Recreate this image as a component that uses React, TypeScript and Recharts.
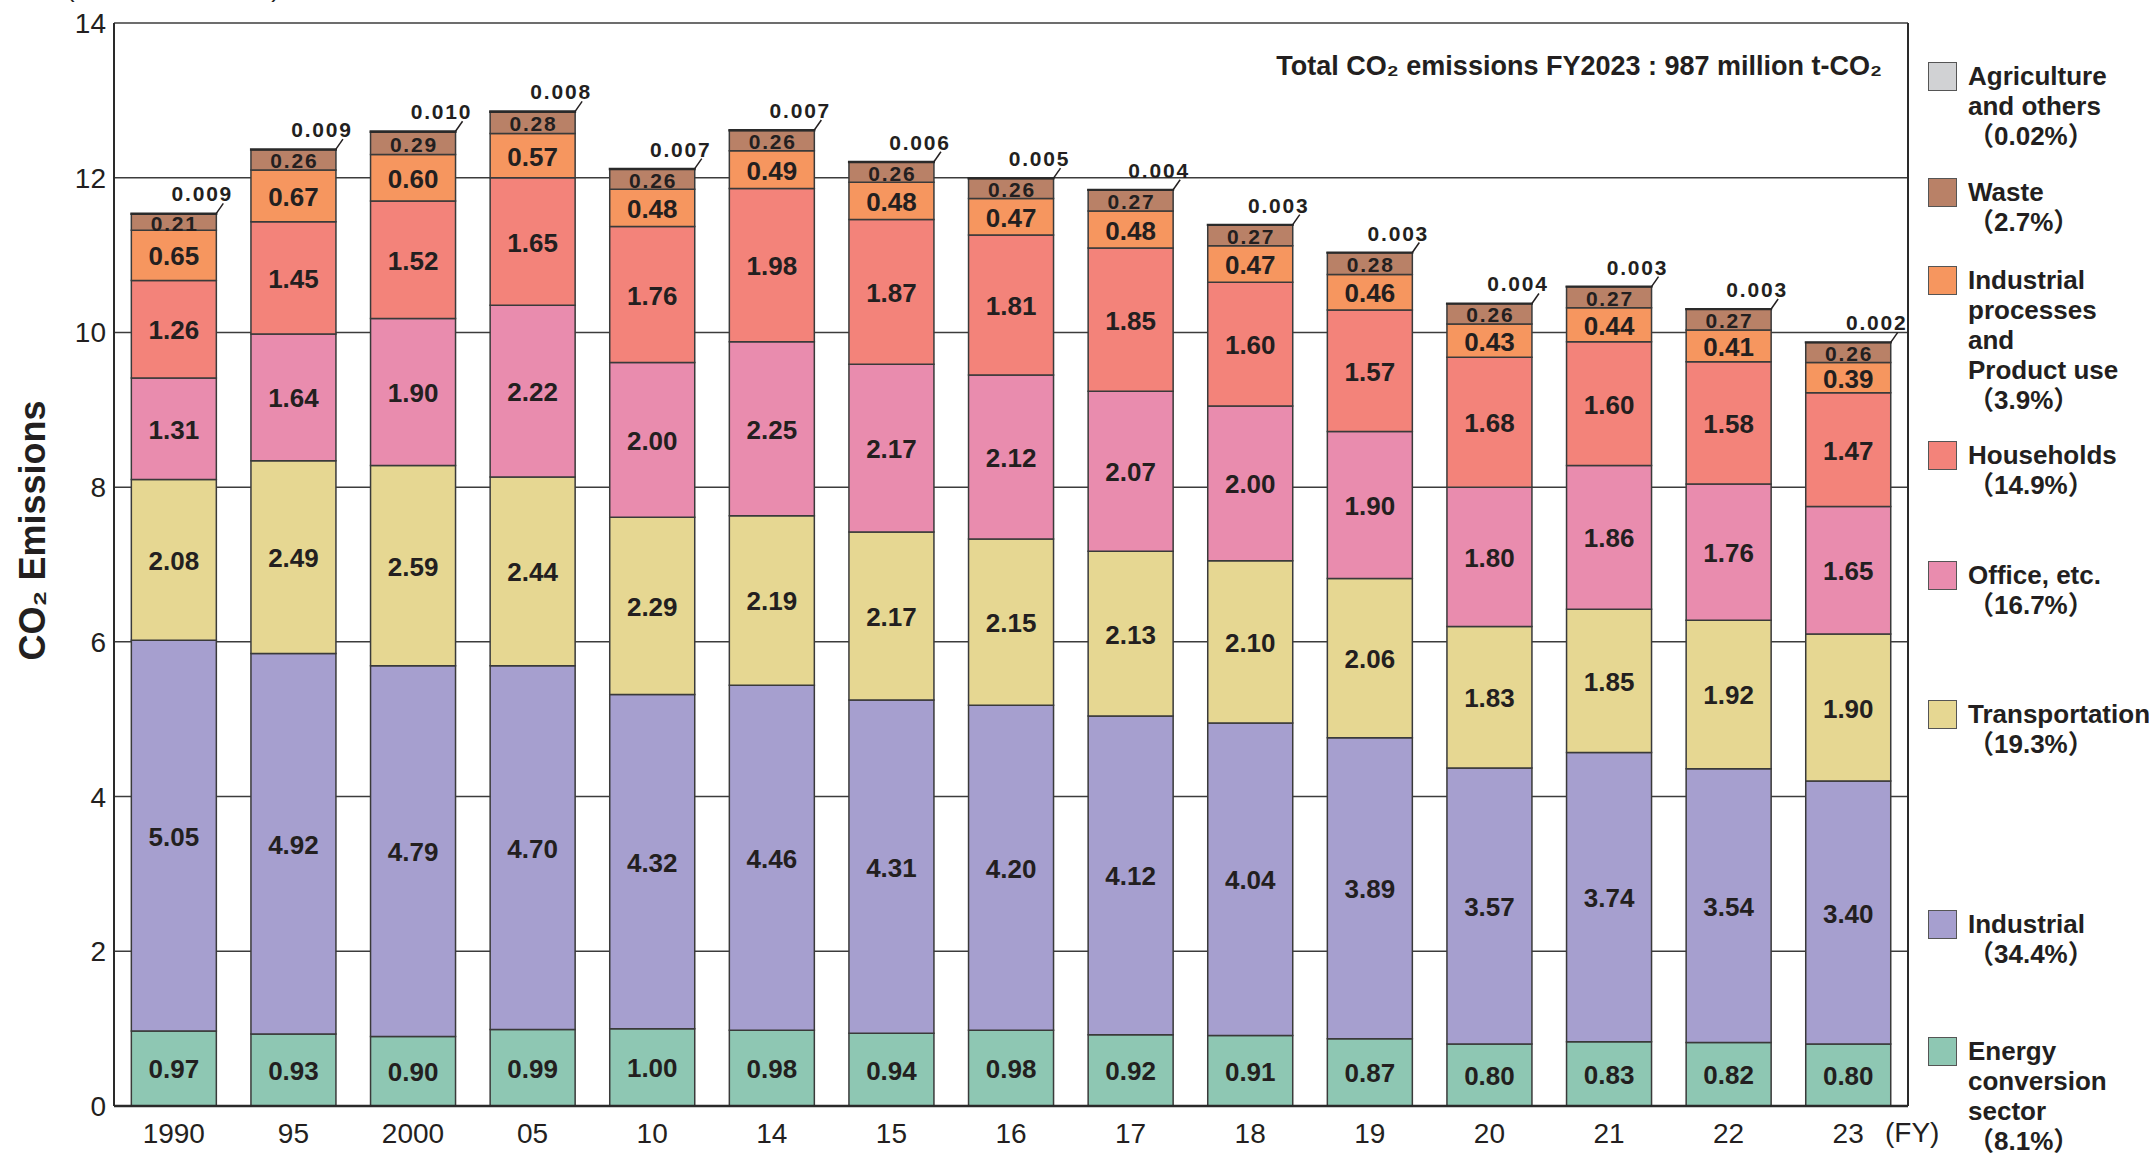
import React from "react";
import { Bar, BarChart, CartesianGrid, LabelList, XAxis, YAxis } from "recharts";

// FY labels on the category axis
const years = ["1990", "95", "2000", "05", "10", "14", "15", "16", "17", "18", "19", "20", "21", "22", "23"];

// 100 million t-CO2, bottom of the stack first
const energy = [0.97, 0.93, 0.9, 0.99, 1.0, 0.98, 0.94, 0.98, 0.92, 0.91, 0.87, 0.8, 0.83, 0.82, 0.8];
const industrial = [5.05, 4.92, 4.79, 4.7, 4.32, 4.46, 4.31, 4.2, 4.12, 4.04, 3.89, 3.57, 3.74, 3.54, 3.4];
const transport = [2.08, 2.49, 2.59, 2.44, 2.29, 2.19, 2.17, 2.15, 2.13, 2.1, 2.06, 1.83, 1.85, 1.92, 1.9];
const office = [1.31, 1.64, 1.9, 2.22, 2.0, 2.25, 2.17, 2.12, 2.07, 2.0, 1.9, 1.8, 1.86, 1.76, 1.65];
const households = [1.26, 1.45, 1.52, 1.65, 1.76, 1.98, 1.87, 1.81, 1.85, 1.6, 1.57, 1.68, 1.6, 1.58, 1.47];
const processes = [0.65, 0.67, 0.6, 0.57, 0.48, 0.49, 0.48, 0.47, 0.48, 0.47, 0.46, 0.43, 0.44, 0.41, 0.39];
const waste = [0.21, 0.26, 0.29, 0.28, 0.26, 0.26, 0.26, 0.26, 0.27, 0.27, 0.28, 0.26, 0.27, 0.27, 0.26];
const agriculture = [0.009, 0.009, 0.01, 0.008, 0.007, 0.007, 0.006, 0.005, 0.004, 0.003, 0.003, 0.004, 0.003, 0.003, 0.002];

const yTicks = [0, 2, 4, 6, 8, 10, 12, 14];

const data = years.map((year, i) => ({
  year,
  energy: energy[i],
  industrial: industrial[i],
  transport: transport[i],
  office: office[i],
  households: households[i],
  processes: processes[i],
  waste: waste[i],
  agriculture: agriculture[i],
}));

const COLORS = {
  energy: "#8ec7b3",
  industrial: "#a69fcf",
  transport: "#e6d792",
  office: "#e98cae",
  households: "#f3837a",
  processes: "#f6965f",
  waste: "#b98167",
  agriculture: "#d1d2d4",
};

const INK = "#231f20";
const SANS = "'Liberation Sans', Arial, sans-serif";
const NARROW = "'Liberation Sans Narrow', 'Liberation Sans', Arial, sans-serif";

const legendItems = [
  { key: "agriculture", lines: ["Agriculture", "and others"], pct: "（0.02%）", top: 62 },
  { key: "waste", lines: ["Waste"], pct: "（2.7%）", top: 178 },
  { key: "processes", lines: ["Industrial", "processes", "and", "Product use"], pct: "（3.9%）", top: 266 },
  { key: "households", lines: ["Households"], pct: "（14.9%）", top: 441 },
  { key: "office", lines: ["Office, etc."], pct: "（16.7%）", top: 561 },
  { key: "transport", lines: ["Transportation"], pct: "（19.3%）", top: 700 },
  { key: "industrial", lines: ["Industrial"], pct: "（34.4%）", top: 910 },
  { key: "energy", lines: ["Energy", "conversion", "sector"], pct: "（8.1%）", top: 1037 },
];

const centerLabel = (fontSize: number, spacing = 0) => (props: any) => {
  const { x, y, width, height, value } = props;
  return (
    <text
      x={x + width / 2 + spacing / 2}
      y={y + height / 2 + 1}
      textAnchor="middle"
      dominantBaseline="central"
      fontSize={fontSize}
      fontWeight={700}
      letterSpacing={spacing}
      fontFamily={SANS}
      fill={INK}
    >
      {Number(value).toFixed(2)}
    </text>
  );
};

// tiny agriculture share: value above the bar with a short leader line
const topLabel = (props: any) => {
  const { x, y, width, value } = props;
  const right = x + width;
  return (
    <g>
      <line x1={right} y1={y} x2={right + 7} y2={y - 10} stroke={INK} strokeWidth={1.5} />
      <text
        x={right - 14}
        y={y - 12}
        textAnchor="middle"
        fontSize={21}
        fontWeight={700}
        letterSpacing={1.8}
        fontFamily={SANS}
        fill={INK}
      >
        {Number(value).toFixed(3)}
      </text>
    </g>
  );
};

function Legend() {
  return (
    <div style={{ position: "absolute", left: 0, top: 0 }}>
      {legendItems.map((it) => (
        <div key={it.key}>
          <div
            style={{
              position: "absolute",
              left: 1928,
              top: it.top,
              width: 27,
              height: 27,
              background: (COLORS as any)[it.key],
              border: "1.5px solid #555",
            }}
          />
          <div
            style={{
              position: "absolute",
              left: 1968,
              top: it.top - 1,
              fontFamily: SANS,
              fontWeight: 700,
              fontSize: 26,
              lineHeight: "30px",
              color: INK,
              whiteSpace: "nowrap",
            }}
          >
            {it.lines.map((l) => (
              <div key={l}>{l}</div>
            ))}
            <div style={{ fontFamily: "'Liberation Sans', 'Noto Sans CJK JP', sans-serif" }}>{it.pct}</div>
          </div>
        </div>
      ))}
    </div>
  );
}

export default function App() {
  const series = [
    { key: "energy", font: 26, spacing: 0 },
    { key: "industrial", font: 26, spacing: 0 },
    { key: "transport", font: 26, spacing: 0 },
    { key: "office", font: 26, spacing: 0 },
    { key: "households", font: 26, spacing: 0 },
    { key: "processes", font: 26, spacing: 0 },
    { key: "waste", font: 21, spacing: 1.8 },
  ];
  return (
    <div style={{ position: "absolute", left: 0, top: 0, width: 2149, height: 1153, background: "#fff" }}>
      <BarChart
        width={2149}
        height={1153}
        data={data}
        margin={{ top: 23, right: 240, left: 54, bottom: 0 }}
        barCategoryGap="14.5%"
      >
        <CartesianGrid vertical={false} stroke="#3c3c3c" strokeWidth={1.5} />
        <XAxis
          dataKey="year"
          height={47}
          interval={0}
          tickLine={false}
          tickMargin={11}
          axisLine={{ stroke: "#2a2a2a", strokeWidth: 2.5 }}
          tick={{ fill: INK, fontSize: 28, fontFamily: NARROW }}
          label={{
            content: (p: any) => {
              const vb = p.viewBox;
              return (
                <text x={vb.x + vb.width - 23} y={vb.y + 36} fontSize={28} fontFamily={NARROW} fill={INK}>
                  (FY)
                </text>
              );
            },
          }}
        />
        <YAxis
          width={60}
          domain={[0, 14]}
          ticks={yTicks}
          tickLine={false}
          axisLine={{ stroke: "#2a2a2a", strokeWidth: 2 }}
          tick={{ fill: INK, fontSize: 28, fontFamily: NARROW }}
          label={{
            content: (p: any) => {
              const vb = p.viewBox;
              const cx = vb.x - 22;
              const cy = vb.y + vb.height / 2 - 34;
              return (
                <text
                  x={cx}
                  y={cy}
                  transform={`rotate(-90 ${cx} ${cy})`}
                  textAnchor="middle"
                  dominantBaseline="central"
                  fontSize={36}
                  fontWeight={700}
                  fontFamily={SANS}
                  fill={INK}
                >
                  CO₂ Emissions
                </text>
              );
            },
          }}
        />
        <YAxis
          yAxisId="r"
          orientation="right"
          width={1}
          domain={[0, 14]}
          ticks={yTicks}
          tick={false}
          tickLine={false}
          axisLine={{ stroke: "#2a2a2a", strokeWidth: 2 }}
        />
        {series.map((s) => (
          <Bar
            key={s.key}
            dataKey={s.key}
            stackId="a"
            fill={(COLORS as any)[s.key]}
            stroke="#3a3a3a"
            strokeWidth={1.5}
            isAnimationActive={false}
          >
            <LabelList dataKey={s.key} content={centerLabel(s.font, s.spacing)} />
          </Bar>
        ))}
        <Bar
          dataKey="agriculture"
          stackId="a"
          fill={COLORS.agriculture}
          stroke="#2a2a2a"
          strokeWidth={2}
          isAnimationActive={false}
        >
          <LabelList dataKey="agriculture" content={topLabel} />
        </Bar>
      </BarChart>

      <div
        style={{
          position: "absolute",
          right: 2149 - 1882,
          top: 51,
          fontFamily: SANS,
          fontWeight: 700,
          fontSize: 27,
          color: INK,
          whiteSpace: "nowrap",
        }}
      >
        Total CO₂ emissions FY2023 : 987 million t-CO₂
      </div>
      <div
        style={{
          position: "absolute",
          left: 66,
          top: -27,
          fontFamily: NARROW,
          fontSize: 26,
          color: INK,
          whiteSpace: "nowrap",
        }}
      >
        (100 million t-CO₂)
      </div>
      <Legend />
    </div>
  );
}
